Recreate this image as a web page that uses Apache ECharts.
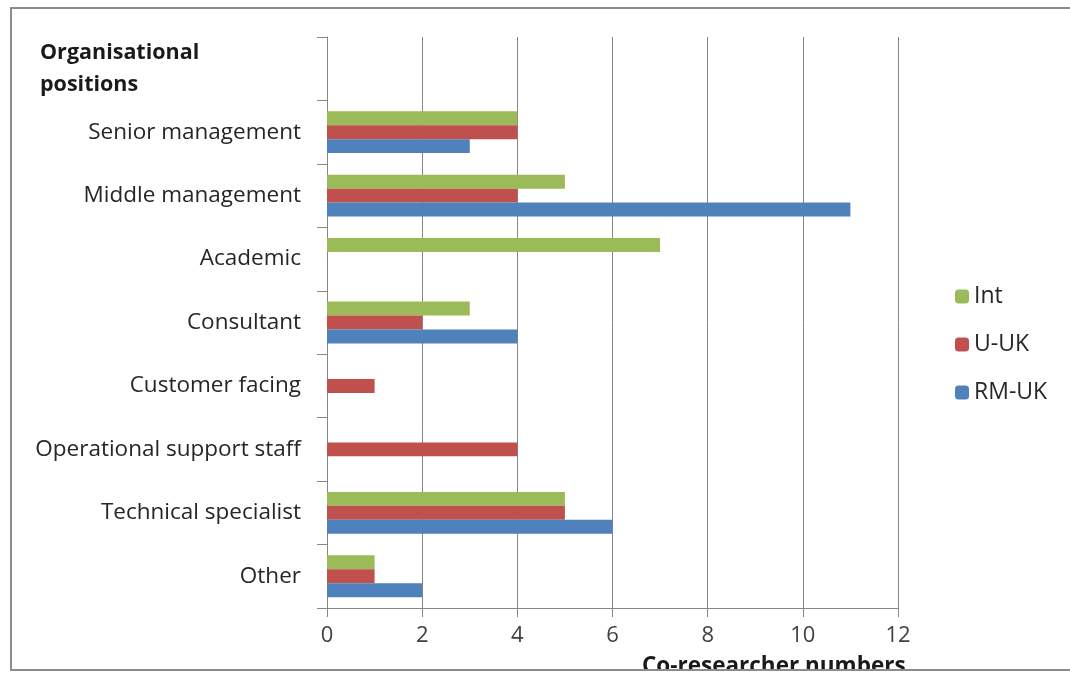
<!DOCTYPE html>
<html>
<head>
<meta charset="utf-8">
<script src="https://cdn.jsdelivr.net/npm/echarts@6/dist/echarts.min.js"></script>
<style>html,body{margin:0;padding:0;background:#fff;}#c{width:1070px;height:678px;}</style>
</head>
<body>
<div id="c"></div>
<script>
// Categories listed bottom-to-top; the empty top slot holds the axis title
const categories = ['Other', 'Technical specialist', 'Operational support staff', 'Customer facing', 'Consultant', 'Academic', 'Middle management', 'Senior management', ''];
const seriesNames = ['Int', 'U-UK', 'RM-UK'];
const intValues  = [1, 5, 0, 0, 3, 7, 5, 4, null];
const uukValues  = [1, 5, 4, 1, 2, 0, 4, 4, null];
const rmukValues = [2, 6, 0, 0, 4, 0, 11, 3, null];
const xTicks = [0, 2, 4, 6, 8, 10, 12];
const colors = ['#9BBB59', '#C0504D', '#4F81BD'];

const FONT = 'Open Sans';
const chart = echarts.init(document.getElementById('c'));
const grey = '#868686';
chart.setOption({
  animation: false,
  textStyle: { fontFamily: FONT },
  grid: { left: 327, right: 172, top: 37, bottom: 70 },
  legend: {
    orient: 'vertical', left: 950, top: 280,
    itemWidth: 14, itemHeight: 14, itemGap: 25,
    textStyle: { fontSize: 23, color: '#262626', fontFamily: FONT },
    data: seriesNames
  },
  xAxis: {
    type: 'value', min: xTicks[0], max: xTicks[xTicks.length - 1], interval: 2,
    axisLine: { show: true, lineStyle: { color: grey, width: 1 } },
    axisTick: { show: true, length: 9, lineStyle: { color: grey } },
    splitLine: { show: true, lineStyle: { color: grey, width: 1 } },
    axisLabel: { fontSize: 22, color: '#404040', margin: 17, fontFamily: FONT }
  },
  yAxis: {
    type: 'category', data: categories,
    axisLine: { show: true, lineStyle: { color: grey, width: 1 } },
    axisTick: { show: true, length: 10, lineStyle: { color: grey } },
    axisLabel: { fontSize: 22.5, color: '#262626', margin: 26, fontFamily: FONT },
    splitLine: { show: false }
  },
  series: [
    { name: seriesNames[0], type: 'bar', data: intValues, itemStyle: { color: colors[0] }, barGap: '0%', barCategoryGap: '34%' },
    { name: seriesNames[1], type: 'bar', data: uukValues, itemStyle: { color: colors[1] }, barGap: '0%', barCategoryGap: '34%' },
    { name: seriesNames[2], type: 'bar', data: rmukValues, itemStyle: { color: colors[2] }, barGap: '0%', barCategoryGap: '34%' }
  ],
  graphic: [
    { type: 'text', left: 40, top: 37, style: { text: 'Organisational\npositions', font: 'bold 21.5px "Open Sans"', fill: '#1a1a1a', lineHeight: 32 } },
    { type: 'text', left: 642, top: 655, style: { text: 'Co-researcher numbers', font: 'bold 22.5px "Open Sans"', fill: '#1a1a1a' } },
    { type: 'rect', shape: { x: 0, y: 671, width: 1070, height: 7 }, style: { fill: '#fff' }, z: 50 },
    { type: 'polyline', shape: { points: [[1070, 8], [11, 8], [11, 670], [1070, 670]] }, style: { stroke: '#8c8c8c', lineWidth: 2, fill: null }, z: 60 }
  ]
});
</script>
</body>
</html>
